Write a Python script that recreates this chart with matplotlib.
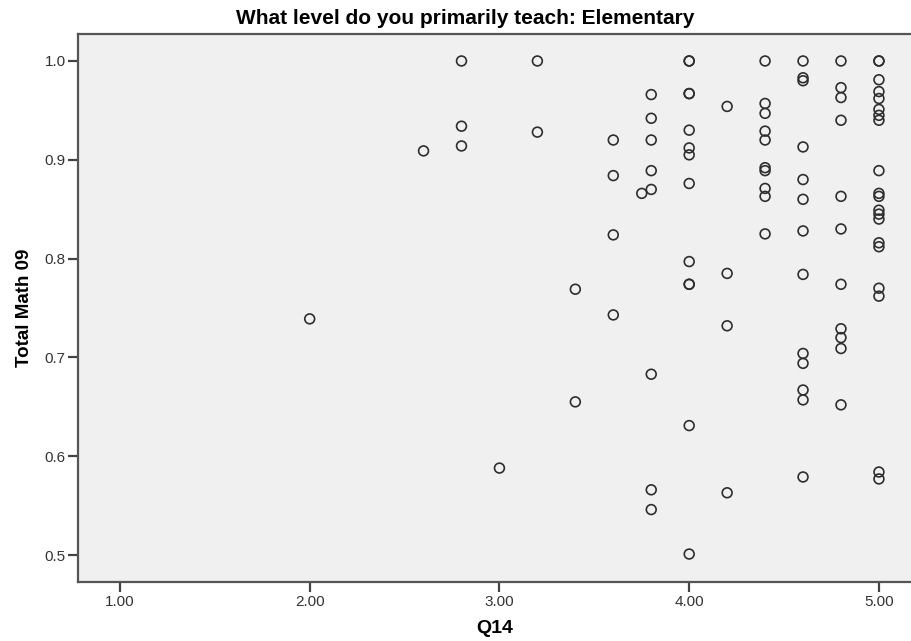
import matplotlib
matplotlib.use("Agg")
import matplotlib.pyplot as plt

plt.rcParams['font.family'] = ['Liberation Sans', 'DejaVu Sans']

# values (Q14 rating vs Total Math 09)
q14 = ([2.0, 2.6] + [2.8] * 3 + [3.0] + [3.2] * 2 + [3.4] * 2 + [3.6] * 4 + [3.75]
       + [3.8] * 8 + [4.0] * 13 + [4.2] * 4 + [4.4] * 10 + [4.6] * 13
       + [4.8] * 11 + [5.0] * 20)
total_math_09 = [
    0.739,
    0.909,
    1.0, 0.934, 0.914,
    0.588,
    1.0, 0.928,
    0.769, 0.655,
    0.920, 0.884, 0.824, 0.743,
    0.866,
    0.966, 0.942, 0.920, 0.889, 0.870, 0.683, 0.566, 0.546,
    1.0, 1.0, 0.967, 0.967, 0.930, 0.912, 0.905, 0.876, 0.797, 0.774, 0.774, 0.631, 0.501,
    0.954, 0.785, 0.732, 0.563,
    1.0, 0.957, 0.947, 0.929, 0.920, 0.892, 0.889, 0.871, 0.863, 0.825,
    1.0, 0.983, 0.980, 0.913, 0.880, 0.860, 0.828, 0.784, 0.704, 0.694, 0.667, 0.657, 0.579,
    1.0, 0.973, 0.963, 0.940, 0.863, 0.830, 0.774, 0.729, 0.720, 0.709, 0.652,
    1.0, 1.0, 0.981, 0.969, 0.962, 0.951, 0.945, 0.940, 0.889, 0.866, 0.863,
    0.849, 0.845, 0.840, 0.816, 0.812, 0.770, 0.762, 0.584, 0.577,
]
x_ticks = [1.0, 2.0, 3.0, 4.0, 5.0]
y_ticks = [0.5, 0.6, 0.7, 0.8, 0.9, 1.0]

fig = plt.figure(figsize=(9.11, 6.41), dpi=100)
ax = fig.add_axes([78 / 911, 59 / 641, 833 / 911, 548 / 641])
ax.set_facecolor('#f0f0f0')

ax.scatter(q14, total_math_09, s=50, facecolors='none', edgecolors='#2e2e2e',
           linewidths=1.2, zorder=3)

ax.set_xlim(0.779, 5.169)
ax.set_ylim(0.4727, 1.0273)
ax.set_xticks(x_ticks)
ax.set_xticklabels(['%.2f' % v for v in x_ticks])
ax.set_yticks(y_ticks)
ax.set_yticklabels(['%.1f' % v for v in y_ticks])

for side in ['left', 'bottom', 'top']:
    ax.spines[side].set_color('#555555')
    ax.spines[side].set_linewidth(1.6)
ax.spines['right'].set_visible(False)

ax.tick_params(axis='both', direction='out', length=7, width=1.6, color='#444444',
               labelsize=11, labelcolor='#333333', pad=2)

ax.set_xlabel('Q14', fontsize=14, fontweight='bold', labelpad=8)
ax.set_ylabel('Total Math 09', fontsize=13.5, fontweight='bold', labelpad=8)
fig.text(236 / 911, 1 - 19 / 641, 'What level do you primarily teach: Elementary',
         ha='left', va='center', fontsize=15, fontweight='bold')

fig.savefig('out.png', dpi=100)
